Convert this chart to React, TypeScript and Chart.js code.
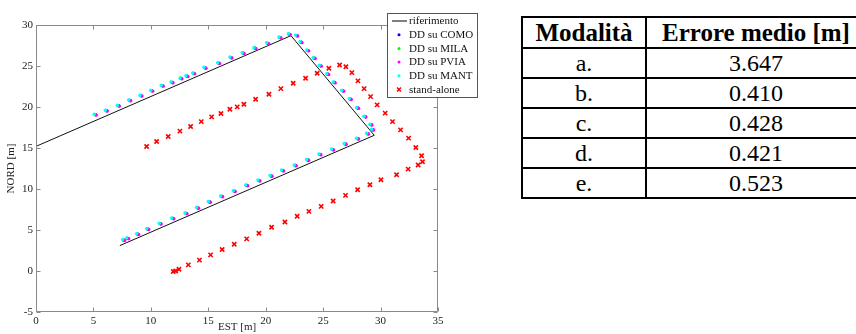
import React, { useEffect, useRef } from "react";
import { Chart, registerables } from "chart.js";

Chart.register(...registerables);

type Pt = [number, number];

const xMin = 0;
const xMax = 35;
const yMin = -5;
const yMax = 30;
const tickStep = 5;

const riferimento: Pt[] = [[0, 15.2], [22.2, 28.7], [29.45, 16.55], [7.3, 3.1]];

const ddMant: Pt[] = [
  [7.54, 3.83], [7.89, 4.04], [8.76, 4.56], [9.63, 5.17], [10.73, 5.82], [11.81, 6.47],
  [12.97, 7.08], [13.98, 7.76], [15.0, 8.49], [16.07, 9.15], [17.17, 9.79], [18.25, 10.49],
  [19.32, 11.09], [20.37, 11.65], [21.38, 12.31], [22.48, 12.92], [23.56, 13.6], [24.63, 14.26],
  [25.73, 14.87], [26.83, 15.55], [27.91, 16.2], [28.78, 16.81], [29.22, 17.3], [29.07, 17.91],
  [28.55, 18.88], [27.91, 19.93], [27.27, 21.02], [26.61, 22.04], [25.87, 23.05], [25.3, 24.06],
  [24.66, 25.09], [24.13, 26.01], [23.56, 26.95], [22.98, 27.96], [22.6, 28.77], [21.96, 28.93],
  [21.15, 28.53], [20.08, 27.83], [18.97, 27.23], [17.95, 26.62], [16.88, 26.09], [15.81, 25.4],
  [14.62, 24.84], [13.64, 24.15], [13.05, 23.82], [12.53, 23.54], [11.75, 23.05], [10.9, 22.65],
  [9.98, 22.04], [9.05, 21.44], [8.07, 20.86], [7.08, 20.22], [6.03, 19.61], [5.07, 19.12],
];

const ddPvia: Pt[] = [
  [7.72, 3.72], [8.07, 3.94], [8.94, 4.45], [9.82, 5.06], [10.9, 5.72], [12.0, 6.37],
  [13.15, 6.97], [14.16, 7.66], [15.18, 8.38], [16.25, 9.05], [17.35, 9.68], [18.43, 10.39],
  [19.5, 10.98], [20.55, 11.55], [21.56, 12.2], [22.66, 12.82], [23.74, 13.49], [24.81, 14.16],
  [25.91, 14.76], [27.01, 15.45], [28.09, 16.09], [28.96, 16.7], [29.4, 17.19], [29.25, 17.8],
  [28.73, 18.77], [28.09, 19.83], [27.45, 20.91], [26.79, 21.93], [26.05, 22.94], [25.48, 23.96],
  [24.84, 24.98], [24.31, 25.9], [23.74, 26.84], [23.16, 27.85], [22.78, 28.66], [22.14, 28.82],
  [21.33, 28.42], [20.26, 27.72], [19.15, 27.12], [18.13, 26.51], [17.06, 25.98], [15.99, 25.29],
  [14.8, 24.73], [13.82, 24.04], [13.23, 23.71], [12.71, 23.43], [11.93, 22.94], [11.08, 22.54],
  [10.16, 21.93], [9.23, 21.33], [8.25, 20.75], [7.26, 20.11], [6.21, 19.5], [5.25, 19.01],
];

const ddMila: Pt[] = [
  [7.6, 3.8], [7.95, 4.0], [8.82, 4.52], [9.69, 5.13], [10.79, 5.78], [11.87, 6.43],
  [13.03, 7.04], [14.04, 7.72], [15.06, 8.45], [16.13, 9.11], [17.23, 9.75], [18.31, 10.45],
  [19.38, 11.05], [20.43, 11.61], [21.44, 12.27], [22.54, 12.88], [23.62, 13.56], [24.69, 14.22],
  [25.79, 14.83], [26.89, 15.51], [27.97, 16.16], [28.84, 16.77], [29.28, 17.26], [29.13, 17.87],
  [28.61, 18.84], [27.97, 19.89], [27.33, 20.98], [26.67, 22.0], [25.93, 23.01], [25.36, 24.02],
  [24.72, 25.05], [24.19, 25.97], [23.62, 26.91], [23.04, 27.92], [22.66, 28.73], [22.02, 28.89],
  [21.21, 28.49], [20.14, 27.79], [19.03, 27.19], [18.01, 26.58], [16.94, 26.05], [15.87, 25.36],
  [14.68, 24.8], [13.7, 24.11], [13.11, 23.78], [12.59, 23.5], [11.81, 23.01], [10.96, 22.61],
  [10.04, 22.0], [9.11, 21.4], [8.13, 20.82], [7.14, 20.18], [6.09, 19.57], [5.13, 19.08],
];

const ddComo: Pt[] = [
  [7.66, 3.76], [8.01, 3.98], [8.88, 4.49], [9.76, 5.1], [10.84, 5.76], [11.94, 6.41],
  [13.09, 7.01], [14.1, 7.7], [15.12, 8.42], [16.19, 9.09], [17.29, 9.72], [18.37, 10.43],
  [19.44, 11.02], [20.49, 11.59], [21.5, 12.24], [22.6, 12.86], [23.68, 13.53], [24.75, 14.2],
  [25.85, 14.8], [26.95, 15.49], [28.03, 16.13], [28.9, 16.74], [29.34, 17.23], [29.19, 17.84],
  [28.67, 18.81], [28.03, 19.87], [27.39, 20.95], [26.73, 21.97], [25.99, 22.98], [25.42, 24.0],
  [24.78, 25.02], [24.25, 25.94], [23.68, 26.88], [23.1, 27.89], [22.72, 28.7], [22.08, 28.86],
  [21.27, 28.46], [20.2, 27.76], [19.09, 27.16], [18.07, 26.55], [17.0, 26.02], [15.93, 25.33],
  [14.74, 24.77], [13.76, 24.08], [13.17, 23.75], [12.65, 23.47], [11.87, 22.98], [11.02, 22.58],
  [10.1, 21.97], [9.17, 21.37], [8.19, 20.79], [7.2, 20.15], [6.15, 19.54], [5.19, 19.05],
];

const standAlone: Pt[] = [
  [11.95, -0.06], [12.16, 0.0], [12.45, 0.22], [13.26, 0.75], [14.23, 1.33], [15.2, 1.97],
  [16.21, 2.62], [17.26, 3.26], [18.34, 3.92], [19.41, 4.6], [20.51, 5.33], [21.67, 5.98],
  [22.74, 6.67], [23.76, 7.27], [24.83, 7.88], [25.87, 8.54], [26.95, 9.22], [28.0, 9.91],
  [29.07, 10.52], [30.03, 11.13], [31.39, 11.74], [32.4, 12.43], [33.27, 12.92], [33.65, 13.32],
  [33.57, 14.05], [33.07, 15.06], [32.44, 16.2], [31.74, 17.21], [31.04, 18.22], [30.4, 19.25],
  [29.7, 20.26], [29.13, 21.27], [28.57, 22.24], [28.03, 23.18], [27.5, 24.19], [26.98, 24.91],
  [26.43, 25.12], [25.5, 24.72], [24.48, 24.11], [23.47, 23.5], [22.39, 22.9], [21.32, 22.24],
  [20.28, 21.56], [19.12, 20.95], [18.1, 20.34], [17.52, 20.01], [16.88, 19.73], [16.1, 19.2],
  [15.29, 18.8], [14.39, 18.22], [13.46, 17.62], [12.53, 17.06], [11.51, 16.4], [10.5, 15.79],
  [9.63, 15.18],
];

const seriesLabels = ["riferimento", "DD su COMO", "DD su MILA", "DD su PVIA", "DD su MANT", "stand-alone"];
const seriesColors = ["#000000", "#0000ff", "#00ff00", "#ff00ff", "#00ffff", "#ff0000"];

const xTitle = "EST [m]";
const yTitle = "NORD [m]";

const tableHeader = ["Modalità", "Errore medio [m]"];
const tableModes = ["a.", "b.", "c.", "d.", "e."];
const tableErrors = ["3.647", "0.410", "0.428", "0.421", "0.523"];

const FONT = "'Liberation Serif', 'Times New Roman', serif";
const AXIS_GRAY = "#8a8a8a";

const toXY = (pts: Pt[]) => pts.map(([x, y]) => ({ x, y }));

const decorPlugin = {
  id: "decor",
  afterDraw(chart: any) {
    const { ctx, chartArea: a, scales } = chart;
    const xs = scales.x;
    const ys = scales.y;
    ctx.save();
    ctx.strokeStyle = AXIS_GRAY;
    ctx.lineWidth = 1;
    const L = Math.round(a.left) + 0.5;
    const R = Math.round(a.right) - 0.5;
    const T = Math.round(a.top) + 0.5;
    const B = Math.round(a.bottom) - 0.5;
    ctx.beginPath();
    ctx.rect(L, T, R - L, B - T);
    ctx.stroke();
    ctx.beginPath();
    for (let v = xMin; v <= xMax; v += tickStep) {
      const px = Math.round(xs.getPixelForValue(v)) + 0.5;
      ctx.moveTo(px, B);
      ctx.lineTo(px, B - 4);
      ctx.moveTo(px, T);
      ctx.lineTo(px, T + 4);
    }
    for (let v = yMin; v <= yMax; v += tickStep) {
      const py = Math.round(ys.getPixelForValue(v)) + 0.5;
      ctx.moveTo(L, py);
      ctx.lineTo(L + 4, py);
      ctx.moveTo(R, py);
      ctx.lineTo(R - 4, py);
    }
    ctx.stroke();

    ctx.fillStyle = "#222";
    ctx.font = `11px ${FONT}`;
    ctx.textAlign = "center";
    ctx.textBaseline = "middle";
    ctx.fillText(xTitle, (a.left + a.right) / 2, 327);
    ctx.save();
    ctx.translate(11, (a.top + a.bottom) / 2);
    ctx.rotate(-Math.PI / 2);
    ctx.fillText(yTitle, 0, 0);
    ctx.restore();

    const lx = 387.5;
    const ly = 13.5;
    const lw = 90;
    const lh = 84;
    ctx.fillStyle = "#fff";
    ctx.fillRect(lx, ly, lw, lh);
    ctx.strokeStyle = "#555";
    ctx.lineWidth = 1;
    ctx.strokeRect(lx, ly, lw, lh);
    ctx.textAlign = "left";
    ctx.textBaseline = "middle";
    seriesLabels.forEach((lab, i) => {
      const cy = 21 + i * 13.7;
      const col = seriesColors[i];
      if (i === 0) {
        ctx.strokeStyle = col;
        ctx.lineWidth = 1;
        ctx.beginPath();
        ctx.moveTo(392, cy);
        ctx.lineTo(407, cy);
        ctx.stroke();
      } else if (i === 5) {
        ctx.strokeStyle = col;
        ctx.lineWidth = 1.5;
        ctx.beginPath();
        ctx.moveTo(397, cy - 2);
        ctx.lineTo(401, cy + 2);
        ctx.moveTo(397, cy + 2);
        ctx.lineTo(401, cy - 2);
        ctx.stroke();
      } else {
        ctx.fillStyle = col;
        ctx.beginPath();
        ctx.arc(399, cy, 1.5, 0, Math.PI * 2);
        ctx.fill();
      }
      ctx.fillStyle = "#111";
      ctx.fillText(lab, 409, cy + 0.5);
    });
    ctx.restore();
  },
};

function ChartView() {
  const ref = useRef<HTMLCanvasElement | null>(null);
  useEffect(() => {
    if (!ref.current) return;
    const ddSet = (data: Pt[], i: number, order: number) => ({
      label: seriesLabels[i],
      data: toXY(data),
      showLine: false,
      pointStyle: "circle",
      pointRadius: 1.7,
      pointBorderWidth: 0,
      pointBackgroundColor: seriesColors[i],
      pointBorderColor: seriesColors[i],
      order,
    });
    const chart = new Chart(ref.current, {
      type: "scatter",
      data: {
        datasets: [
          {
            label: seriesLabels[0],
            data: toXY(riferimento),
            showLine: true,
            borderColor: "#111",
            borderWidth: 1,
            pointRadius: 0,
            fill: false,
            order: 6,
          },
          ddSet(ddComo, 1, 4),
          ddSet(ddMila, 2, 3),
          ddSet(ddPvia, 3, 2),
          ddSet(ddMant, 4, 1),
          {
            label: seriesLabels[5],
            data: toXY(standAlone),
            showLine: false,
            pointStyle: "crossRot",
            pointRadius: 3,
            pointBorderWidth: 1.6,
            pointBorderColor: seriesColors[5],
            pointBackgroundColor: seriesColors[5],
            order: 0,
          },
        ] as any,
      },
      options: {
        responsive: false,
        animation: false,
        devicePixelRatio: 1,
        layout: { padding: { top: 25, right: 52, left: 0, bottom: 0 } },
        plugins: { legend: { display: false }, tooltip: { enabled: false } },
        scales: {
          x: {
            type: "linear",
            min: xMin,
            max: xMax,
            ticks: { stepSize: tickStep, padding: 3, color: "#222", font: { family: FONT, size: 11 } },
            grid: { display: false, drawTicks: false },
            border: { display: false },
            afterFit: (s: any) => {
              s.height = 22;
            },
          },
          y: {
            type: "linear",
            min: yMin,
            max: yMax,
            ticks: { stepSize: tickStep, padding: 3, color: "#222", font: { family: FONT, size: 11 } },
            grid: { display: false, drawTicks: false },
            border: { display: false },
            afterFit: (s: any) => {
              s.width = 36;
            },
          },
        },
      } as any,
      plugins: [decorPlugin],
    });
    return () => chart.destroy();
  }, []);
  return <canvas ref={ref} width={490} height={334} style={{ position: "absolute", left: 0, top: 0 }} />;
}

const cellBorder = "2px solid #000";

export default function App() {
  return (
    <div
      style={{
        position: "fixed",
        left: 0,
        top: 0,
        width: 856,
        height: 334,
        overflow: "hidden",
        background: "#fff",
      }}
    >
      <ChartView />
      <table
        style={{
          position: "absolute",
          left: 521,
          top: 16,
          borderCollapse: "collapse",
          fontFamily: FONT,
          color: "#000",
          tableLayout: "fixed",
          width: 344,
        }}
      >
        <colgroup>
          <col style={{ width: 124 }} />
          <col style={{ width: 220 }} />
        </colgroup>
        <thead>
          <tr style={{ height: 31 }}>
            {tableHeader.map((h) => (
              <th
                key={h}
                style={{
                  border: cellBorder,
                  padding: 0,
                  fontWeight: "bold",
                  fontSize: 25,
                  lineHeight: "27px",
                  whiteSpace: "nowrap",
                }}
              >
                {h}
              </th>
            ))}
          </tr>
        </thead>
        <tbody>
          {tableModes.map((m, i) => (
            <tr key={m} style={{ height: 30 }}>
              <td style={{ border: cellBorder, padding: 0, textAlign: "center", fontSize: 24, lineHeight: "26px" }}>{m}</td>
              <td style={{ border: cellBorder, padding: 0, textAlign: "center", fontSize: 24, lineHeight: "26px" }}>
                {tableErrors[i]}
              </td>
            </tr>
          ))}
        </tbody>
      </table>
    </div>
  );
}
